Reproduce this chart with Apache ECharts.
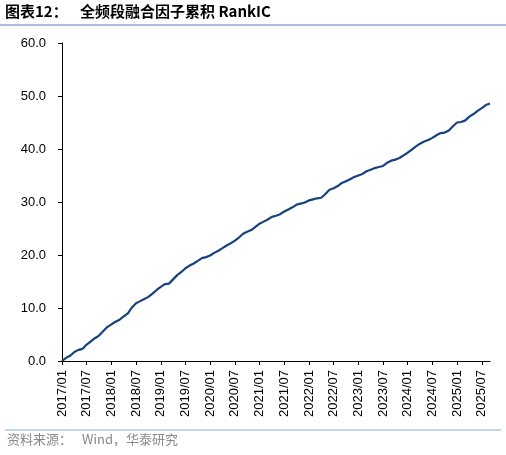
<!DOCTYPE html>
<html>
<head>
<meta charset="utf-8">
<script src="https://cdn.jsdelivr.net/npm/echarts@6/dist/echarts.min.js"></script>
<style>
  html, body { margin: 0; padding: 0; background: #fff; }
  #main { width: 506px; height: 455px; }
</style>
</head>
<body>
<div id="main"></div>
<script>
// 月份：2017/01 ~ 2025/09
const months = []
for (let y = 2017; y <= 2025; y++) {
  for (let m = 1; m <= 12; m++) {
    if (y === 2025 && m > 9) break
    months.push(y + '/' + (m < 10 ? '0' + m : m))
  }
}

// 累积 RankIC（从图上读出的月度值）
const rankIC = [
  0.0, 0.6, 1.0, 1.7, 2.1, 2.3, 3.1, 3.7, 4.3, 4.8, 5.6, 6.4,
  6.9, 7.4, 7.8, 8.4, 9.0, 10.1, 10.9, 11.3, 11.7, 12.1, 12.7, 13.4,
  14.0, 14.5, 14.6, 15.4, 16.2, 16.8, 17.5, 18.0, 18.4, 18.9, 19.4, 19.6,
  19.9, 20.4, 20.8, 21.3, 21.8, 22.2, 22.7, 23.3, 24.0, 24.4, 24.7, 25.3,
  25.9, 26.3, 26.7, 27.2, 27.4, 27.7, 28.2, 28.6, 29.0, 29.5, 29.7, 29.9,
  30.3, 30.5, 30.7, 30.8, 31.5, 32.3, 32.6, 33.0, 33.6, 33.9, 34.3, 34.7,
  35.0, 35.3, 35.8, 36.1, 36.4, 36.6, 36.8, 37.4, 37.8, 38.0, 38.3, 38.8,
  39.3, 39.9, 40.5, 41.0, 41.4, 41.7, 42.1, 42.6, 43.0, 43.1, 43.5, 44.3,
  45.0, 45.1, 45.4, 46.1, 46.6, 47.2, 47.7, 48.3, 48.6
]

const yTicks = [0, 10, 20, 30, 40, 50, 60]

const chart = echarts.init(document.getElementById('main'))

// 每半年一个刻度
const halfYear = function (idx) { return idx % 6 === 0 }

const option = {
  animation: false,
  textStyle: { fontFamily: 'Liberation Sans, Arial, sans-serif' },
  grid: { left: 62, right: 16, top: 43, bottom: 94 },
  graphic: [
    {
      type: 'text', left: 5, top: 4,
      style: {
        text: '图表12：',
        font: 'bold 15px "Noto Sans CJK SC", sans-serif',
        fill: '#000'
      }
    },
    {
      type: 'text', left: 80, top: 4,
      style: {
        text: '全频段融合因子累积 RankIC',
        font: 'bold 15px "Noto Sans CJK SC", sans-serif',
        fill: '#000'
      }
    },
    {
      type: 'rect', left: 0, top: 24,
      shape: { width: 506, height: 2 },
      style: { fill: '#a9c0d8' }
    },
    {
      type: 'rect', left: 5, top: 429,
      shape: { width: 496, height: 2 },
      style: { fill: '#c5d5e6' }
    },
    {
      type: 'text', left: 7, top: 433,
      style: {
        text: '资料来源：',
        font: '13px "Noto Sans CJK SC", sans-serif',
        fill: '#8a8a8a'
      }
    },
    {
      type: 'text', left: 82, top: 433,
      style: {
        text: 'Wind，华泰研究',
        font: '13px "Noto Sans CJK SC", sans-serif',
        fill: '#8a8a8a'
      }
    }
  ],
  xAxis: {
    type: 'category',
    data: months,
    boundaryGap: false,
    axisLine: { lineStyle: { color: '#000', width: 1 } },
    axisTick: { interval: halfYear, length: 4, lineStyle: { color: '#000' } },
    axisLabel: {
      interval: halfYear,
      rotate: 90,
      color: '#000',
      fontSize: 13,
      margin: 9
    },
    splitLine: { show: false }
  },
  yAxis: {
    type: 'value',
    min: yTicks[0],
    max: yTicks[yTicks.length - 1],
    interval: 10,
    axisLine: { show: true, lineStyle: { color: '#000', width: 1 } },
    axisTick: { show: true, length: 4, lineStyle: { color: '#000' } },
    axisLabel: {
      color: '#000',
      fontSize: 13,
      margin: 16,
      formatter: function (v) { return v.toFixed(1) }
    },
    splitLine: { show: false }
  },
  series: [
    {
      type: 'line',
      data: rankIC,
      showSymbol: false,
      lineStyle: { color: '#17427f', width: 2.2 }
    }
  ]
}

chart.setOption(option)
</script>
</body>
</html>
